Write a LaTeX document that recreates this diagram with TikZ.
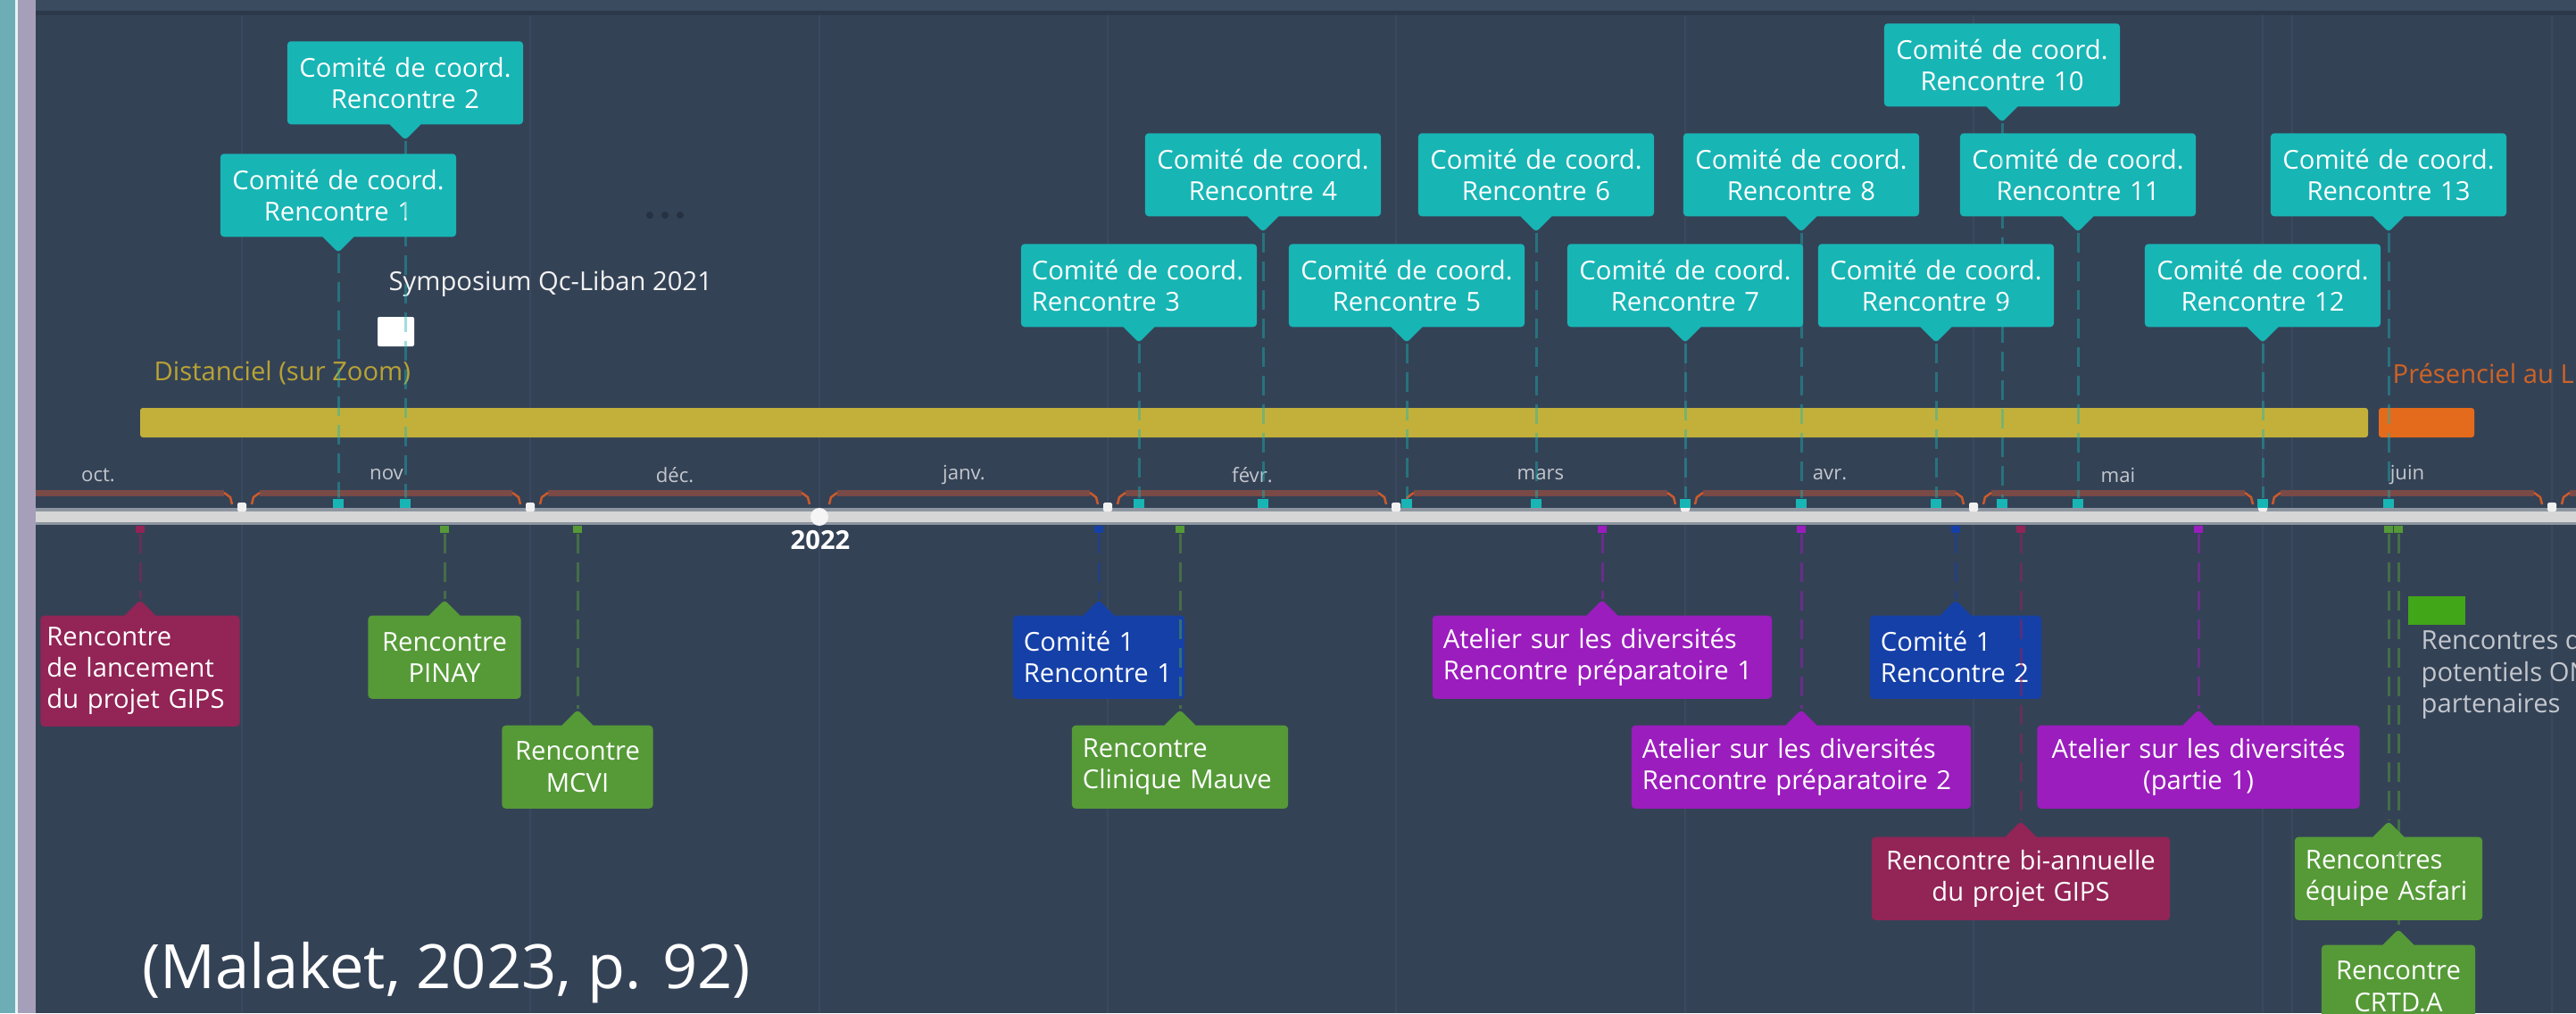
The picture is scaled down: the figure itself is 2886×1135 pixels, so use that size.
\documentclass[tikz,border=0pt]{standalone}
\usepackage{fontspec}
\setmainfont{Open Sans}
\usetikzlibrary{shapes.callouts}

\definecolor{bgslate}{HTML}{344256}
\definecolor{topband}{HTML}{3B4B5F}
\definecolor{topline}{HTML}{2C394B}
\definecolor{gridslate}{HTML}{3A495F}
\definecolor{stripteal}{HTML}{6DADB6}
\definecolor{striplav}{HTML}{A59FBA}
\definecolor{coordteal}{HTML}{18B5B5}
\definecolor{gipsred}{HTML}{922456}
\definecolor{partgreen}{HTML}{559A37}
\definecolor{legendgreen}{HTML}{41A618}
\definecolor{comblue}{HTML}{1540A8}
\definecolor{ateliermauve}{HTML}{9B1DBD}
\definecolor{zoomyellow}{HTML}{C2B03B}
\definecolor{zoomtext}{HTML}{B9A334}
\definecolor{libanorange}{HTML}{E46B1B}
\definecolor{libantext}{HTML}{CF6325}
\definecolor{bracketbrown}{HTML}{7A4A47}
\definecolor{bracketend}{HTML}{CC5A2A}
\definecolor{axisgray}{HTML}{D6D6D6}
\definecolor{axisedge}{HTML}{8D96A0}
\definecolor{monthgray}{HTML}{C3C7CD}
\definecolor{dotgray}{HTML}{263242}

\begin{document}
\begin{tikzpicture}[x=0.01cm, y=-0.01cm,
    evt/.style={rectangle callout, callout pointer width=0.35cm, rounded corners=0.04cm,
      text=white, inner xsep=0.12cm, inner ysep=0pt, minimum height=0.93cm,
      font=\fontsize{8.3}{10}\selectfont},
    coordbox/.style={evt, fill=coordteal, text width=2.40cm, align=center, anchor=south},
    lowbox/.style={evt, anchor=north, align=left},
    tmark/.style={fill=coordteal, inner sep=0pt, minimum width=0.12cm, minimum height=0.1cm},
    lmark/.style={inner sep=0pt, minimum width=0.1cm, minimum height=0.08cm},
    tline/.style={coordteal, opacity=0.42, line width=0.03cm, dash pattern=on 0.22cm off 0.1cm},
    lline/.style={opacity=0.5, line width=0.03cm, dash pattern=on 0.22cm off 0.1cm},
    monthlbl/.style={text=monthgray, font=\fontsize{6.3}{7}\selectfont, inner sep=0pt},
    txt/.style={font=\fontsize{8.3}{10}\selectfont, inner sep=0pt}]

    \useasboundingbox (0,0) rectangle (2886,1135);
    \clip (0,0) rectangle (2886,1135);

    % background
    \fill[bgslate] (0,0) rectangle (2886,1135);
    \fill[topband] (40,0) rectangle (2886,12);
    \fill[topline] (40,12) rectangle (2886,17);
    \fill[stripteal] (0,0) rectangle (17,1135);
    \fill[white!85!stripteal] (17,0) rectangle (20,1135);
    \fill[striplav] (20,0) rectangle (40,1135);
    \foreach \g in {271,594,918,1241,1564,1888,2211,2535,2568,2859}
        \draw[gridslate, line width=0.02cm] (\g,17) -- (\g,1135);

    % periods
    \fill[zoomyellow, rounded corners=0.03cm] (157,457) rectangle (2653,490);
    \fill[libanorange, rounded corners=0.03cm] (2665,457) rectangle (2772,490);
    \node[txt, text=zoomtext, anchor=west] (dist) at (172,418) {Distanciel (sur Zoom)};
    \node[txt, text=libantext, anchor=west] (pres) at (2680,418) {Présenciel au Liban};

    \node[txt, text=white!90!gray, anchor=west] (symp) at (435,318) {Symposium Qc-Liban 2021};
    \fill[white, rounded corners=0.02cm] (423,355) rectangle (464,388);
    \foreach \d in {728,745,762}
        \fill[dotgray] (\d,241) circle (0.04cm);

    % axis
    \fill[axisedge] (40,569) rectangle (2886,588);
    \fill[axisgray] (40,573) rectangle (2886,585);
    \begin{scope}
    \clip (40,500) rectangle (2886,600);
    \foreach \a/\b in {-52/271,271/594,594/918,918/1241,1241/1564,1564/1888,1888/2211,2211/2535,2535/2859,2859/3182}{
        \draw[bracketbrown, line width=0.07cm] (\a+20,552) -- (\b-20,552);
        \draw[bracketend, line width=0.025cm] (\a+11,565) -- (\a+13,557) -- (\a+20,552);
        \draw[bracketend, line width=0.025cm] (\b-11,565) -- (\b-13,557) -- (\b-20,552);
    }
    \end{scope}
    \foreach \b in {271,594,1241,1564,1888,2211,2535,2859}
        \fill[white!88!gray, rounded corners=0.015cm] (\b-5,563) rectangle (\b+5,573);
    \fill[white!92!gray] (918,579) circle (0.1cm);
    \node[txt, text=white, font=\fontsize{8.3}{10}\selectfont\bfseries] (yr) at (919,605) {2022};

    \foreach \m/\x in {oct./110,nov/433,déc./756,janv./1080,févr./1403,mars/1726,avr./2050,mai/2373,juin/2697}
        \node[monthlbl] (m\x) at (\x,532) {\m};

    % comite de coordination
    \node[tmark] (t1) at (379,564) {};
    \node[tmark] (t2) at (454,564) {};
    \node[tmark] (t3) at (1276,564) {};
    \node[tmark] (t4) at (1415,564) {};
    \node[tmark] (t5) at (1576,564) {};
    \node[tmark] (t6) at (1721,564) {};
    \node[tmark] (t7) at (1888,564) {};
    \node[tmark] (t8) at (2018,564) {};
    \node[tmark] (t9) at (2169,564) {};
    \node[tmark] (t10) at (2243,564) {};
    \node[tmark] (t11) at (2328,564) {};
    \node[tmark] (t12) at (2535,564) {};
    \node[tmark] (t13) at (2676,564) {};

    \node[coordbox, callout absolute pointer={(379,283)}] (c1) at (379,266) {Comité de coord.\\Rencontre 1};
    \node[coordbox, callout absolute pointer={(454,157)}] (c2) at (454,140) {Comité de coord.\\Rencontre 2};
    \node[coordbox, align=left, callout absolute pointer={(1276,384)}] (c3) at (1276,367) {Comité de coord.\\Rencontre 3};
    \node[coordbox, callout absolute pointer={(1415,260)}] (c4) at (1415,243) {Comité de coord.\\Rencontre 4};
    \node[coordbox, callout absolute pointer={(1576,384)}] (c5) at (1576,367) {Comité de coord.\\Rencontre 5};
    \node[coordbox, callout absolute pointer={(1721,260)}] (c6) at (1721,243) {Comité de coord.\\Rencontre 6};
    \node[coordbox, callout absolute pointer={(1888,384)}] (c7) at (1888,367) {Comité de coord.\\Rencontre 7};
    \node[coordbox, callout absolute pointer={(2018,260)}] (c8) at (2018,243) {Comité de coord.\\Rencontre 8};
    \node[coordbox, callout absolute pointer={(2169,384)}] (c9) at (2169,367) {Comité de coord.\\Rencontre 9};
    \node[coordbox, callout absolute pointer={(2243,137)}] (c10) at (2243,120) {Comité de coord.\\Rencontre 10};
    \node[coordbox, callout absolute pointer={(2328,260)}] (c11) at (2328,243) {Comité de coord.\\Rencontre 11};
    \node[coordbox, callout absolute pointer={(2535,384)}] (c12) at (2535,367) {Comité de coord.\\Rencontre 12};
    \node[coordbox, callout absolute pointer={(2676,260)}] (c13) at (2676,243) {Comité de coord.\\Rencontre 13};

    % other meetings
    \node[lmark, fill=gipsred] (l1) at (157,593) {};
    \node[lmark, fill=partgreen] (l2) at (498,593) {};
    \node[lmark, fill=partgreen] (l3) at (647,593) {};
    \node[lmark, fill=comblue] (l4) at (1231,593) {};
    \node[lmark, fill=partgreen] (l5) at (1322,593) {};
    \node[lmark, fill=ateliermauve] (l6) at (1795,593) {};
    \node[lmark, fill=ateliermauve] (l7) at (2018,593) {};
    \node[lmark, fill=comblue] (l8) at (2191,593) {};
    \node[lmark, fill=gipsred] (l9) at (2264,593) {};
    \node[lmark, fill=ateliermauve] (l10) at (2463,593) {};
    \node[lmark, fill=partgreen] (l11) at (2676,593) {};
    \node[lmark, fill=partgreen] (l12) at (2687,593) {};

    \node[lowbox, fill=gipsred, inner xsep=0.07cm, text width=2.09cm, minimum height=1.24cm, callout absolute pointer={(157,672)}] (e1) at (157,689) {Rencontre\\de lancement\\du projet GIPS};
    \node[lowbox, fill=partgreen, text width=1.47cm, align=center, callout absolute pointer={(498,672)}] (e2) at (498,689) {Rencontre\\PINAY};
    \node[lowbox, fill=partgreen, text width=1.45cm, align=center, callout absolute pointer={(647,795)}] (e3) at (647,812) {Rencontre\\MCVI};
    \node[lowbox, fill=comblue, text width=1.68cm, callout absolute pointer={(1231,672)}] (e4) at (1231,689) {Comité 1\\Rencontre 1};
    \node[lowbox, fill=partgreen, text width=2.18cm, callout absolute pointer={(1322,795)}] (e5) at (1322,812) {Rencontre\\Clinique Mauve};
    \node[lowbox, fill=ateliermauve, text width=3.56cm, callout absolute pointer={(1795,672)}] (e6) at (1795,689) {Atelier sur les diversités\\Rencontre préparatoire 1};
    \node[lowbox, fill=ateliermauve, text width=3.56cm, callout absolute pointer={(2018,795)}] (e7) at (2018,812) {Atelier sur les diversités\\Rencontre préparatoire 2};
    \node[lowbox, fill=comblue, text width=1.68cm, callout absolute pointer={(2191,672)}] (e8) at (2191,689) {Comité 1\\Rencontre 2};
    \node[lowbox, fill=gipsred, text width=3.10cm, align=center, callout absolute pointer={(2264,920)}] (e9) at (2264,937) {Rencontre bi-annuelle\\du projet GIPS};
    \node[lowbox, fill=ateliermauve, text width=3.37cm, align=center, callout absolute pointer={(2463,795)}] (e10) at (2463,812) {Atelier sur les diversités\\(partie 1)};
    \node[lowbox, fill=partgreen, text width=1.86cm, callout absolute pointer={(2676,920)}] (e11) at (2676,937) {Rencontres\\équipe Asfari};
    \node[lowbox, fill=partgreen, text width=1.48cm, align=center, callout absolute pointer={(2687,1041)}] (e12) at (2687,1058) {Rencontre\\CRTD.A};

    % connectors
    \draw[tline] (c1.pointer) -- (t1.north);
    \draw[tline] (c2.pointer) -- (t2.north);
    \draw[tline] (c3.pointer) -- (t3.north);
    \draw[tline] (c4.pointer) -- (t4.north);
    \draw[tline] (c5.pointer) -- (t5.north);
    \draw[tline] (c6.pointer) -- (t6.north);
    \draw[tline] (c7.pointer) -- (t7.north);
    \draw[tline] (c8.pointer) -- (t8.north);
    \draw[tline] (c9.pointer) -- (t9.north);
    \draw[tline] (c10.pointer) -- (t10.north);
    \draw[tline] (c11.pointer) -- (t11.north);
    \draw[tline] (c12.pointer) -- (t12.north);
    \draw[tline] (c13.pointer) -- (t13.north);

    \draw[lline, gipsred] (l1.south) -- (e1.pointer);
    \draw[lline, partgreen] (l2.south) -- (e2.pointer);
    \draw[lline, partgreen] (l3.south) -- (e3.pointer);
    \draw[lline, comblue] (l4.south) -- (e4.pointer);
    \draw[lline, partgreen] (l5.south) -- (e5.pointer);
    \draw[lline, ateliermauve] (l6.south) -- (e6.pointer);
    \draw[lline, ateliermauve] (l7.south) -- (e7.pointer);
    \draw[lline, comblue] (l8.south) -- (e8.pointer);
    \draw[lline, gipsred] (l9.south) -- (e9.pointer);
    \draw[lline, ateliermauve] (l10.south) -- (e10.pointer);
    \draw[lline, partgreen] (l11.south) -- (e11.pointer);
    \draw[lline, partgreen] (l12.south) -- (e12.pointer);

    % legend
    \fill[legendgreen] (2698,668) rectangle (2762,700);
    \node[txt, text=monthgray, anchor=north west, align=left] (leg) at (2712,705) {Rencontres de\\potentiels ONG\\partenaires};

    \node[text=white, inner sep=0pt, font=\fontsize{19.5}{22}\selectfont] (src) at (500,1090) {(Malaket, 2023, p. 92)};
\end{tikzpicture}
\end{document}
